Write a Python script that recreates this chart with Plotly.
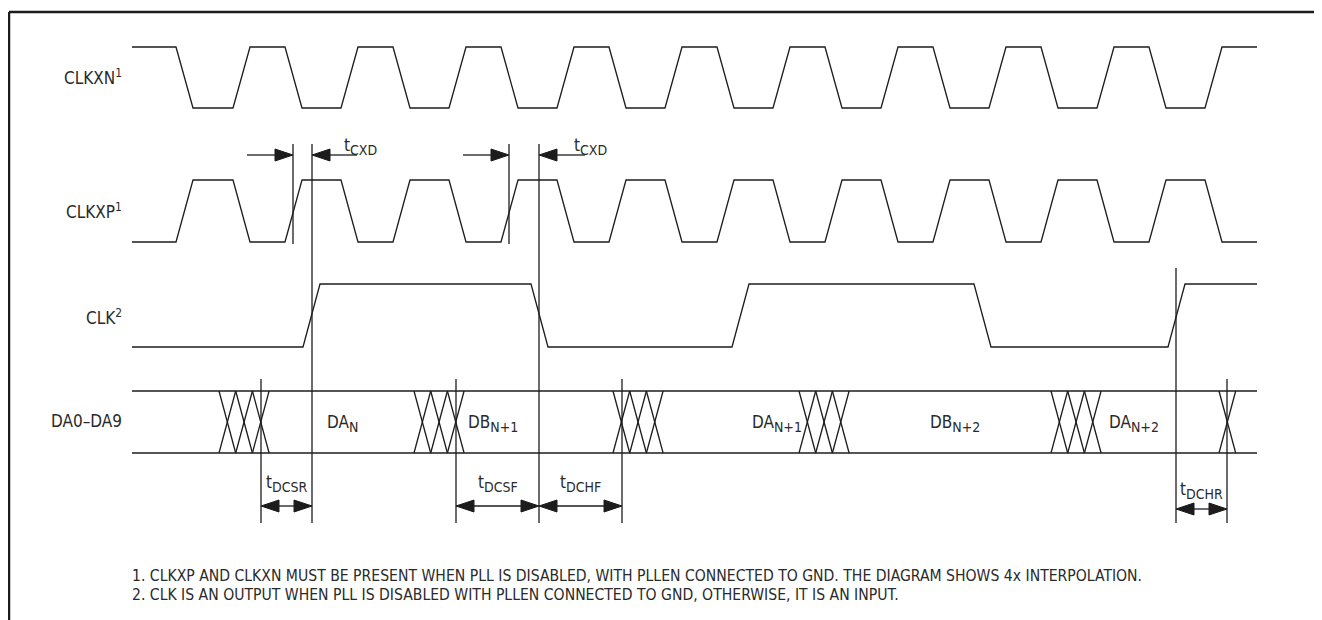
import plotly.graph_objects as go

# canvas in pixel units, y grows downward; the page body adds an 8px margin
W, H = 1322, 620
PAD = 8
FONT = "DejaVu Sans Condensed, Liberation Sans Narrow, sans-serif"
INK = "#1c1c1c"
TXT = "#2a2a2a"

X_START, X_END = 132, 1257
EDGE = 17  # rise / fall time

ROW_LABELS = ["CLKXN<sup>1</sup>", "CLKXP<sup>1</sup>", "CLK<sup>2</sup>", "DA0–DA9"]
ROW_LABEL_Y = [77, 211, 317, 421]

CLKXN_LEVELS = (47, 108)   # high, low
CLKXP_LEVELS = (180, 242)
CLK_LEVELS = (284, 347)
BUS_LEVELS = (391, 453)

# CLKXN edge start times (first is a fall); CLKXP is the complement
CLKXN_EDGES = [176, 233, 285, 341, 393, 449, 501, 557, 609, 665,
               717, 773, 825, 881, 933, 989, 1041, 1097, 1149, 1205]
# CLK edge start times (first is a rise)
CLK_EDGES = [303, 531, 732, 974, 1168]

# data bus crossovers
XOVER_START = [219, 414, 613, 799, 1051, 1219]
XOVER_COUNT = [3, 3, 3, 3, 3, 1]
XOVER_W = 16.7

BUS_NAMES = ["DA", "DB", "DA", "DB", "DA"]
BUS_SUBS = ["N", "N+1", "N+1", "N+2", "N+2"]
BUS_LABEL_X = [325, 466, 750, 928, 1107]
BUS_LABEL_Y = 423

# vertical timing reference lines
MARKER_X = [293, 312, 509, 539, 261, 456, 622, 1176, 1227]
MARKER_Y0 = [144, 144, 144, 144, 379, 379, 379, 268, 379]
MARKER_Y1 = [244, 523, 244, 523, 523, 523, 523, 523, 523]

# tCXD inward arrows: (left tail, left tip, right tip, right tail)
CXD_ARROWS = [(247, 293, 312, 357), (463, 509, 539, 585)]
CXD_Y = 155
CXD_LABEL_X = [342, 572]
CXD_LABEL_Y = 146

# double arrows under the bus
SPAN_SUBS = ["DCSR", "DCSF", "DCHF", "DCHR"]
SPAN_X0 = [261, 456, 539, 1176]
SPAN_X1 = [312, 539, 622, 1227]
SPAN_Y = [506, 506, 506, 509]
SPAN_LABEL_Y = [483, 483, 483, 490]

HEAD_L, HEAD_H = 18, 6

NOTES = [
    "1. CLKXP AND CLKXN MUST BE PRESENT WHEN PLL IS DISABLED, WITH PLLEN CONNECTED TO GND. THE DIAGRAM SHOWS 4x INTERPOLATION.",
    "2. CLK IS AN OUTPUT WHEN PLL IS DISABLED WITH PLLEN CONNECTED TO GND, OTHERWISE, IT IS AN INPUT.",
]
NOTE_X = 130
NOTE_Y = [576, 595]


def waveform(edges, levels, start_high):
    hi, lo = levels
    level = hi if start_high else lo
    xs, ys = [X_START], [level]
    for t in edges:
        xs.append(t)
        ys.append(level)
        level = lo if level == hi else hi
        xs.append(t + EDGE)
        ys.append(level)
    xs.append(X_END)
    ys.append(level)
    return xs, ys


def head(tip, y, direction):
    # direction +1 points right, -1 points left
    base = tip - direction * HEAD_L
    return [tip, base, base, tip], [y, y - HEAD_H, y + HEAD_H, y]


def sub(main, small):
    return f"{main}<sub><span style='font-size:14px'>{small}</span></sub>"


fig = go.Figure()


def add_line(xs, ys, width=1.3):
    fig.add_trace(go.Scatter(x=xs, y=ys, mode="lines", hoverinfo="skip",
                             line=dict(color=INK, width=width), showlegend=False))


def add_fill(xs, ys):
    fig.add_trace(go.Scatter(x=xs, y=ys, mode="lines", fill="toself", fillcolor=INK,
                             hoverinfo="skip", line=dict(color=INK, width=1),
                             showlegend=False))


# clocks
add_line(*waveform(CLKXN_EDGES, CLKXN_LEVELS, True))
add_line(*waveform(CLKXN_EDGES, CLKXP_LEVELS, False))
add_line(*waveform(CLK_EDGES, CLK_LEVELS, False))

# data bus
top, bot = BUS_LEVELS
add_line([X_START, X_END, None, X_START, X_END], [top, top, None, bot, bot])
bx, by = [], []
for s, n in zip(XOVER_START, XOVER_COUNT):
    for i in range(n):
        a, b = s + i * XOVER_W, s + (i + 1) * XOVER_W
        bx += [a, b, None, a, b, None]
        by += [top, bot, None, bot, top, None]
add_line(bx, by)

# timing markers
mx, my = [], []
for x, y0, y1 in zip(MARKER_X, MARKER_Y0, MARKER_Y1):
    mx += [x, x, None]
    my += [y0, y1, None]
add_line(mx, my)

# tCXD arrows
for lt, ltip, rtip, rt in CXD_ARROWS:
    add_line([lt, ltip - HEAD_L, None, rtip + HEAD_L, rt], [CXD_Y] * 2 + [None] + [CXD_Y] * 2)
    add_fill(*head(ltip, CXD_Y, 1))
    add_fill(*head(rtip, CXD_Y, -1))

# double arrows
for x0, x1, y in zip(SPAN_X0, SPAN_X1, SPAN_Y):
    add_line([x0 + HEAD_L, x1 - HEAD_L], [y, y])
    add_fill(*head(x0, y, -1))
    add_fill(*head(x1, y, 1))

# frame (top and left edges)
add_line([9, W, None, 9, 9], [12, 12, None, 12, H], width=2.5)

ann = []
for text, y in zip(ROW_LABELS, ROW_LABEL_Y):
    ann.append(dict(x=124, y=y, text=text, xanchor="right", yanchor="middle"))
for name, s, x in zip(BUS_NAMES, BUS_SUBS, BUS_LABEL_X):
    ann.append(dict(x=x, y=BUS_LABEL_Y, text=sub(name, s), xanchor="left", yanchor="middle"))
for x in CXD_LABEL_X:
    ann.append(dict(x=x, y=CXD_LABEL_Y, text=sub("t", "CXD"), xanchor="left", yanchor="middle"))
for s, x0, x1, y in zip(SPAN_SUBS, SPAN_X0, SPAN_X1, SPAN_LABEL_Y):
    ann.append(dict(x=(x0 + x1) / 2, y=y, text=sub("t", s), xanchor="center", yanchor="middle"))
for a in ann:
    a.update(xref="x", yref="y", showarrow=False, font=dict(family=FONT, size=17, color=TXT))
for text, y in zip(NOTES, NOTE_Y):
    ann.append(dict(x=NOTE_X, y=y, text=text, xref="x", yref="y", showarrow=False,
                    xanchor="left", yanchor="middle",
                    font=dict(family=FONT, size=15.6, color=TXT)))

fig.update_layout(
    width=W - PAD,
    height=H - PAD,
    margin=dict(l=0, r=0, t=0, b=0),
    paper_bgcolor="white",
    plot_bgcolor="white",
    xaxis=dict(range=[PAD, W], visible=False, fixedrange=True),
    yaxis=dict(range=[H, PAD], visible=False, fixedrange=True),
    annotations=ann,
    showlegend=False,
)

fig.write_html("out.html")
